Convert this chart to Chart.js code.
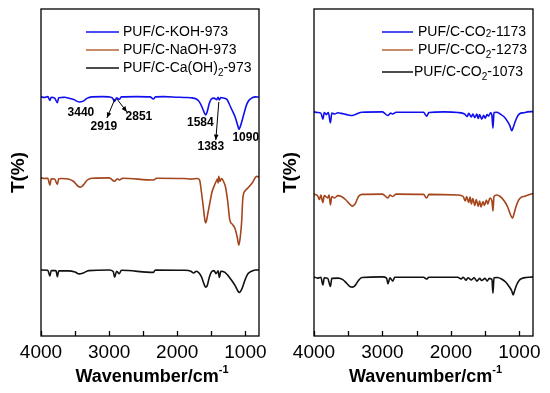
<!DOCTYPE html>
<html>
<head>
<meta charset="utf-8">
<script src="https://cdn.jsdelivr.net/npm/chart.js@4.4.0/dist/chart.umd.min.js"></script>
<style>
  html, body { margin: 0; padding: 0; background: #fff; }
  #wrap { position: relative; width: 550px; height: 393px; }
  canvas { position: absolute; top: 0; }
  #left { left: 0; }
  #right { left: 275px; }
</style>
</head>
<body>
<div id="wrap">
  <canvas id="left" width="275" height="393"></canvas>
  <canvas id="right" width="275" height="393"></canvas>
</div>
<script>
// spectra as [wavenumber, T] (arbitrary T units, offset per curve)
const kohT = [
  [4000, 79.7], [3950, 79.5], [3900, 79.8], [3870, 78.5], [3850, 79.6], [3800, 79.3],
  [3760, 77.8], [3740, 79.4], [3700, 79.5], [3650, 79.6], [3600, 79.3], [3520, 78.8],
  [3440, 78.0], [3380, 78.3], [3320, 79.3], [3250, 79.7], [3100, 79.8], [3000, 79.7],
  [2950, 79.3], [2919, 78.2], [2890, 79.4], [2851, 78.9], [2820, 79.7], [2600, 79.8],
  [2400, 79.7], [2350, 79.0], [2320, 79.7], [2200, 79.8], [2000, 79.6], [1900, 79.5],
  [1800, 79.4], [1720, 79.0], [1680, 78.2], [1640, 76.5], [1610, 74.8], [1584, 73.7],
  [1560, 74.8], [1530, 77.5], [1500, 79.0], [1460, 79.3], [1420, 78.8], [1400, 79.6],
  [1383, 78.7], [1360, 79.5], [1320, 79.3], [1270, 78.8], [1240, 77.5], [1200, 75.5],
  [1150, 73.0], [1110, 70.0], [1095, 68.9], [1075, 69.8], [1040, 72.5], [1010, 75.0],
  [980, 77.2], [950, 78.5], [900, 79.4], [850, 79.7], [800, 79.6]
];
const naohT = [
  [4000, 52.7], [3950, 52.5], [3900, 52.6], [3870, 50.3], [3850, 52.4], [3800, 52.3],
  [3760, 50.5], [3740, 52.4], [3700, 52.5], [3600, 52.3], [3520, 51.5], [3460, 50.0],
  [3420, 49.6], [3380, 50.3], [3320, 52.0], [3250, 52.6], [3000, 52.7], [2920, 51.6],
  [2880, 52.4], [2850, 52.0], [2800, 52.6], [2350, 52.0], [2300, 52.6], [1900, 52.5],
  [1800, 52.3], [1700, 52.5], [1670, 51.8], [1645, 48.0], [1620, 43.5], [1600, 39.5],
  [1584, 37.7], [1570, 38.5], [1550, 41.0], [1522, 44.3], [1490, 48.0], [1463, 49.7],
  [1430, 51.5], [1410, 52.3], [1400, 51.0], [1390, 53.2], [1375, 51.5], [1350, 52.5],
  [1320, 51.5], [1290, 49.5], [1260, 45.0], [1229, 38.7], [1190, 37.2], [1155, 36.0],
  [1120, 33.0], [1095, 30.3], [1075, 33.0], [1055, 38.0], [1037, 46.0], [1000, 48.5],
  [965, 49.3], [900, 51.0], [833, 53.2], [800, 53.0]
];
const caohT = [
  [4000, 22.0], [3900, 21.9], [3870, 20.0], [3850, 21.8], [3780, 21.8], [3760, 19.8],
  [3740, 21.7], [3600, 21.7], [3500, 21.3], [3440, 20.7], [3380, 21.0], [3300, 21.8],
  [3000, 22.0], [2940, 21.5], [2919, 19.6], [2890, 21.6], [2851, 20.8], [2820, 21.9],
  [2350, 21.2], [2320, 22.0], [1900, 21.9], [1800, 21.6], [1760, 21.0], [1720, 21.6],
  [1680, 21.0], [1640, 19.5], [1610, 17.5], [1584, 16.3], [1560, 16.8], [1530, 19.5],
  [1500, 21.3], [1460, 21.8], [1430, 20.8], [1400, 21.7], [1383, 19.5], [1360, 21.6],
  [1300, 21.2], [1250, 20.0], [1200, 18.5], [1150, 16.8], [1110, 15.0], [1090, 14.5],
  [1060, 15.3], [1030, 17.0], [1000, 19.0], [960, 20.8], [900, 21.7], [850, 22.0],
  [800, 22.0]
];
const co2T1173 = [
  [4000, 74.7], [3950, 74.5], [3900, 74.3], [3870, 72.3], [3850, 74.5], [3820, 73.8],
  [3790, 74.5], [3760, 71.0], [3740, 74.3], [3700, 74.0], [3650, 74.4], [3600, 74.2],
  [3520, 73.8], [3440, 73.5], [3380, 74.0], [3300, 74.6], [3000, 74.7], [2920, 73.5],
  [2880, 74.3], [2850, 74.0], [2800, 74.6], [2400, 74.6], [2355, 73.3], [2320, 74.5],
  [2100, 74.7], [1900, 74.5], [1800, 74.0], [1760, 73.2], [1740, 74.2], [1700, 73.0],
  [1680, 74.0], [1650, 72.8], [1620, 74.0], [1600, 72.5], [1580, 73.8], [1550, 72.3],
  [1520, 73.6], [1500, 72.6], [1470, 73.8], [1450, 73.3], [1420, 74.4], [1400, 73.5],
  [1385, 69.3], [1370, 74.5], [1330, 74.6], [1280, 74.0], [1220, 73.0], [1180, 71.8],
  [1140, 70.2], [1110, 68.4], [1090, 69.5], [1060, 71.5], [1020, 73.5], [980, 74.3],
  [930, 74.4], [880, 74.7], [800, 74.8]
];
const co2T1273 = [
  [4000, 47.3], [3950, 46.8], [3920, 45.5], [3900, 47.0], [3870, 44.5], [3850, 46.8],
  [3800, 46.0], [3780, 47.0], [3760, 43.7], [3740, 46.5], [3700, 46.0], [3650, 46.8],
  [3600, 46.5], [3540, 45.5], [3480, 44.0], [3440, 43.3], [3400, 44.0], [3350, 46.5],
  [3300, 47.2], [3000, 47.3], [2920, 46.0], [2890, 47.0], [2850, 46.5], [2800, 47.3],
  [2400, 47.2], [2355, 46.0], [2320, 47.2], [1900, 47.0], [1820, 46.5], [1790, 45.0],
  [1770, 46.5], [1740, 44.5], [1720, 46.3], [1700, 44.0], [1680, 45.8], [1650, 43.5],
  [1630, 45.5], [1600, 43.2], [1580, 45.0], [1560, 43.0], [1530, 44.8], [1510, 43.5],
  [1480, 45.3], [1460, 44.0], [1430, 46.0], [1400, 45.0], [1385, 41.7], [1370, 46.5],
  [1330, 47.0], [1280, 46.5], [1220, 45.0], [1170, 43.0], [1130, 40.5], [1100, 39.3],
  [1080, 40.5], [1050, 43.0], [1010, 45.3], [970, 46.3], [920, 46.6], [870, 47.0],
  [800, 47.5]
];
const co2T1073 = [
  [4000, 19.7], [3950, 19.3], [3900, 19.6], [3870, 17.0], [3850, 19.4], [3800, 19.2],
  [3760, 16.5], [3740, 19.2], [3650, 19.3], [3580, 18.8], [3520, 17.5], [3470, 16.4],
  [3440, 16.3], [3400, 16.8], [3350, 18.5], [3300, 19.5], [3000, 19.7], [2940, 19.3],
  [2920, 17.4], [2890, 19.4], [2850, 18.3], [2820, 19.6], [2400, 19.6], [2355, 19.0],
  [2320, 19.6], [1900, 19.6], [1850, 19.0], [1820, 19.6], [1780, 18.6], [1750, 19.4],
  [1700, 18.7], [1660, 19.4], [1620, 18.3], [1580, 19.2], [1550, 18.5], [1500, 19.2],
  [1470, 18.3], [1440, 19.2], [1400, 18.8], [1385, 14.3], [1370, 19.4], [1320, 19.5],
  [1260, 19.0], [1200, 18.0], [1150, 16.5], [1110, 15.0], [1090, 13.7], [1070, 15.0],
  [1040, 17.0], [1000, 18.6], [960, 19.2], [900, 19.5], [850, 19.6], [800, 19.7]
];

// peak labels on the left panel
const peakLabels = ['3440', '2919', '2851', '1584', '1383', '1090'];
const peakLabelWn = [3414, 3076, 2563, 1661, 1507, 994];
const peakLabelT = [74.3, 69.7, 73.0, 71.0, 63.0, 66.0];
const arrowFrom = [[2915, 79.0], [2886, 79.0], [1390, 78.0]];
const arrowTo = [[3032, 72.7], [2739, 74.7], [1434, 65.3]];

const xTicks = [4000, 3500, 3000, 2500, 2000, 1500, 1000];

const BLUE = '#1010ee';
const BROWN = '#a4451c';
const BLACK = '#111111';
const FONT = "'Liberation Sans', Arial, sans-serif";

function toPoints(arr) {
  return arr.map(p => ({ x: p[0], y: p[1] }));
}

function frameAndLabels(legend, notes) {
  return {
    id: 'frameAndLabels',
    afterDraw(chart) {
      const ctx = chart.ctx;
      const a = chart.chartArea;
      const xs = chart.scales.x;
      const ys = chart.scales.y;
      ctx.save();
      ctx.strokeStyle = '#000';
      ctx.lineWidth = 1.3;
      ctx.strokeRect(a.left, a.top, a.right - a.left, a.bottom - a.top);
      // inward ticks on the bottom axis
      xTicks.forEach(t => {
        const px = Math.round(xs.getPixelForValue(t)) + 0.5;
        ctx.beginPath();
        ctx.moveTo(px, a.bottom);
        ctx.lineTo(px, a.bottom - 5);
        ctx.stroke();
      });

      // x title with superscript
      ctx.fillStyle = '#000';
      ctx.textBaseline = 'alphabetic';
      const main = 'Wavenumber/cm';
      ctx.font = 'bold 11px ' + FONT;
      const supW = ctx.measureText('-1').width;
      ctx.font = 'bold 18px ' + FONT;
      const mainW = ctx.measureText(main).width;
      const cx = (a.left + a.right) / 2;
      const x0 = cx - (mainW + supW) / 2 + 2;
      ctx.textAlign = 'left';
      ctx.fillText(main, x0, 382);
      ctx.font = 'bold 11px ' + FONT;
      ctx.fillText('-1', x0 + mainW, 373);

      // legend
      legend.forEach(item => {
        ctx.strokeStyle = item.color;
        ctx.lineWidth = 1.5;
        ctx.beginPath();
        ctx.moveTo(item.x1, item.y);
        ctx.lineTo(item.x2, item.y);
        ctx.stroke();
        let tx = item.tx;
        ctx.fillStyle = '#000';
        ctx.textBaseline = 'middle';
        item.parts.forEach(part => {
          if (part[1] === 'sub') {
            ctx.font = '10px ' + FONT;
            ctx.fillText(part[0], tx, item.y + 5);
          } else if (part[1] === 'small') {
            ctx.font = '10px ' + FONT;
            ctx.fillText(part[0], tx, item.y + 2);
          } else {
            ctx.font = '14px ' + FONT;
            ctx.fillText(part[0], tx, item.y);
          }
          tx += ctx.measureText(part[0]).width;
        });
      });

      // peak annotations
      if (notes) {
        ctx.fillStyle = '#000';
        ctx.font = 'bold 12px ' + FONT;
        ctx.textAlign = 'center';
        ctx.textBaseline = 'middle';
        peakLabels.forEach((lab, i) => {
          ctx.fillText(lab, xs.getPixelForValue(peakLabelWn[i]), ys.getPixelForValue(peakLabelT[i]));
        });
        ctx.strokeStyle = '#000';
        ctx.lineWidth = 1;
        arrowFrom.forEach((f, i) => {
          const x1 = xs.getPixelForValue(f[0]), y1 = ys.getPixelForValue(f[1]);
          const x2 = xs.getPixelForValue(arrowTo[i][0]), y2 = ys.getPixelForValue(arrowTo[i][1]);
          const ang = Math.atan2(y2 - y1, x2 - x1);
          ctx.beginPath();
          ctx.moveTo(x1, y1);
          ctx.lineTo(x2, y2);
          ctx.stroke();
          ctx.beginPath();
          ctx.moveTo(x2, y2);
          ctx.lineTo(x2 - 6 * Math.cos(ang - 0.4), y2 - 6 * Math.sin(ang - 0.4));
          ctx.lineTo(x2 - 6 * Math.cos(ang + 0.4), y2 - 6 * Math.sin(ang + 0.4));
          ctx.closePath();
          ctx.fill();
        });
      }
      ctx.restore();
    }
  };
}

function makeChart(id, series, padLeft, padRight, axisW, legend, notes) {
  return new Chart(document.getElementById(id).getContext('2d'), {
    type: 'line',
    data: {
      datasets: series.map(s => ({
        data: toPoints(s.data),
        borderColor: s.color,
        borderWidth: 1.6,
        pointRadius: 0,
        fill: false,
        cubicInterpolationMode: 'monotone'
      }))
    },
    options: {
      responsive: false,
      animation: false,
      layout: { padding: { left: padLeft, right: padRight, top: 9, bottom: 0 } },
      plugins: { legend: { display: false }, tooltip: { enabled: false } },
      scales: {
        x: {
          type: 'linear',
          reverse: true,
          min: 800,
          max: 4000,
          grid: { display: false, drawTicks: false },
          border: { display: false },
          afterBuildTicks: scale => { scale.ticks = xTicks.map(v => ({ value: v })); },
          afterFit: scale => { scale.height = 57; },
          ticks: {
            autoSkip: false,
            maxRotation: 0,
            padding: 5,
            color: '#000',
            font: { size: 19, family: FONT },
            callback: v => (v % 1000 === 0 ? String(v) : '')
          }
        },
        y: {
          min: 0,
          max: 109,
          grid: { display: false, drawTicks: false },
          border: { display: false },
          ticks: { display: false },
          afterFit: scale => { scale.width = axisW; },
          title: {
            display: true,
            text: 'T(%)',
            color: '#000',
            padding: 0,
            font: { size: 19, weight: 'bold', family: FONT }
          }
        }
      }
    },
    plugins: [frameAndLabels(legend, notes)]
  });
}

makeChart('left', [
  { data: kohT, color: BLUE },
  { data: naohT, color: BROWN },
  { data: caohT, color: BLACK }
], 7, 16, 34, [
  { color: BLUE, x1: 86, x2: 119, y: 32, tx: 123, parts: [['PUF/C-KOH-973', 'n']] },
  { color: '#b5653a', x1: 86, x2: 119, y: 50, tx: 123, parts: [['PUF/C-NaOH-973', 'n']] },
  { color: BLACK, x1: 86, x2: 119, y: 68, tx: 123, parts: [['PUF/C-Ca(OH)', 'n'], ['2', 'sub'], ['-973', 'n']] }
], true);

makeChart('right', [
  { data: co2T1173, color: BLUE },
  { data: co2T1273, color: BROWN },
  { data: co2T1073, color: BLACK }
], 4, 17, 35, [
  { color: BLUE, x1: 107, x2: 138, y: 32, tx: 143, parts: [['PUF/C-CO', 'n'], ['2', 'small'], ['-1173', 'n']] },
  { color: '#b5653a', x1: 107, x2: 138, y: 50, tx: 143, parts: [['PUF/C-CO', 'n'], ['2', 'sub'], ['-1273', 'n']] },
  { color: BLACK, x1: 107, x2: 138, y: 72, tx: 139, parts: [['PUF/C-CO', 'n'], ['2', 'sub'], ['-1073', 'n']] }
], false);
</script>
</body>
</html>
